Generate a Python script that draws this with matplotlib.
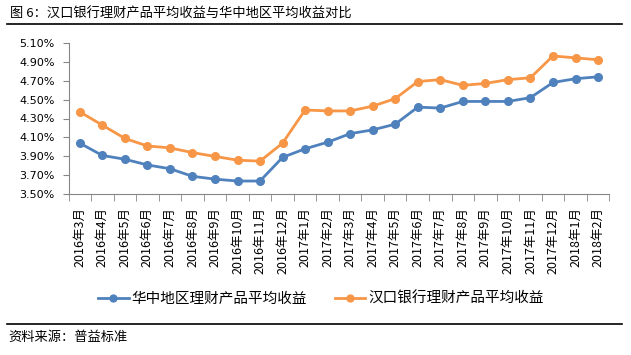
import matplotlib.pyplot as plt
import numpy as np
from matplotlib.lines import Line2D
from matplotlib.ticker import FixedLocator, PercentFormatter

plt.rcParams['font.family'] = ['Noto Sans CJK SC', 'DejaVu Sans']

# months on the x axis
months = ['2016年3月', '2016年4月', '2016年5月', '2016年6月', '2016年7月', '2016年8月',
          '2016年9月', '2016年10月', '2016年11月', '2016年12月', '2017年1月', '2017年2月',
          '2017年3月', '2017年4月', '2017年5月', '2017年6月', '2017年7月', '2017年8月',
          '2017年9月', '2017年10月', '2017年11月', '2017年12月', '2018年1月', '2018年2月']

# average yields, %
central_china = [4.04, 3.91, 3.87, 3.81, 3.77, 3.69, 3.66, 3.64, 3.64, 3.89, 3.98, 4.05,
                 4.14, 4.18, 4.24, 4.42, 4.41, 4.48, 4.48, 4.48, 4.52, 4.68, 4.72, 4.74]
hankou_bank = [4.37, 4.23, 4.09, 4.01, 3.99, 3.94, 3.90, 3.86, 3.85, 4.04, 4.39, 4.38,
               4.38, 4.43, 4.51, 4.69, 4.71, 4.65, 4.67, 4.71, 4.73, 4.96, 4.94, 4.92]

series_names = ['华中地区理财产品平均收益', '汉口银行理财产品平均收益']
yticks = [3.5, 3.7, 3.9, 4.1, 4.3, 4.5, 4.7, 4.9, 5.1]

W, H = 631, 355
fig = plt.figure(figsize=(W / 100, H / 100), dpi=100)
ax = fig.add_axes([68.5 / W, 1 - 194.3 / H, (609.3 - 68.5) / W, (194.3 - 42.7) / H])

x = np.arange(len(months))
ax.plot(x, central_china, color='#4F81BD', lw=2, marker='o', ms=5.5, label=series_names[0])
ax.plot(x, hankou_bank, color='#F79646', lw=2, marker='o', ms=5.5, label=series_names[1])

ax.set_xlim(-0.5, len(months) - 0.5)
ax.set_ylim(3.5, 5.1)
ax.set_yticks(yticks)
ax.yaxis.set_major_formatter(PercentFormatter(decimals=2))
for lab in ax.get_yticklabels():
    lab.set_family('DejaVu Sans')
ax.tick_params(axis='y', labelsize=8, length=4, color='#868686', pad=6)

ax.set_xticks(x)
ax.set_xticklabels(months, rotation=90, fontsize=9)
ax.xaxis.set_minor_locator(FixedLocator(np.arange(-0.5, len(months), 1)))
ax.tick_params(axis='x', which='major', length=0, pad=9)
ax.tick_params(axis='x', which='minor', length=5, color='#868686')

for s in ['top', 'right']:
    ax.spines[s].set_visible(False)
for s in ['left', 'bottom']:
    ax.spines[s].set_color('#868686')

fig.legend(loc='center', bbox_to_anchor=(321 / W, 1 - 299 / H), ncol=2, frameon=False,
           fontsize=10.5, handlelength=2.1, handletextpad=0.2, columnspacing=1.9, markerscale=0.9)

# title, source and the rules around them
fig.text(10 / W, 1 - 14 / H, '图 6：汉口银行理财产品平均收益与华中地区平均收益对比',
         fontsize=9.5, va='center', ha='left')
fig.add_artist(Line2D([7 / W, 622 / W], [1 - 24 / H] * 2, color='black', lw=1.2))
fig.add_artist(Line2D([7 / W, 622 / W], [1 - 323.5 / H] * 2, color='black', lw=1.2))
fig.text(8 / W, 1 - 337 / H, '资料来源：普益标准', fontsize=9.5, va='center', ha='left')

fig.savefig('out.png', dpi=100)
